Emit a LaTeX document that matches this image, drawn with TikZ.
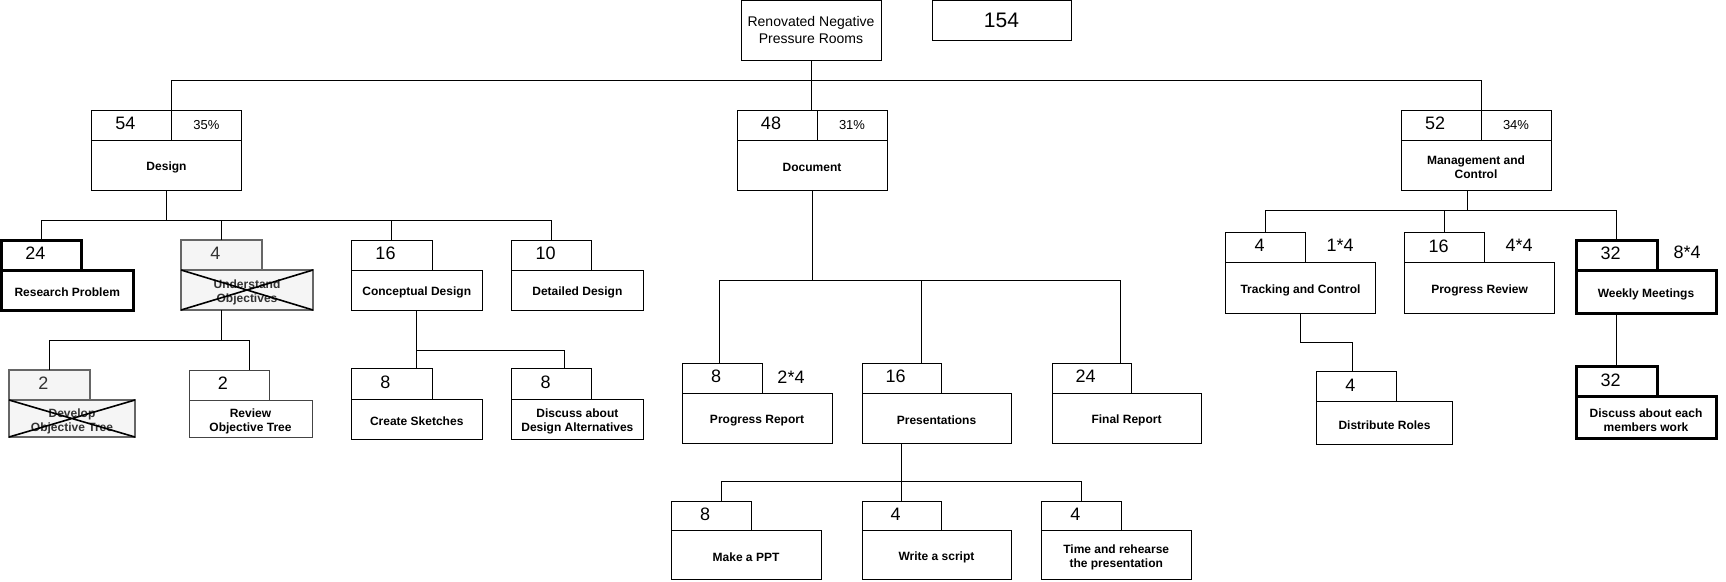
\documentclass[tikz,border=0pt]{standalone}
\usepackage{fontspec}
\setmainfont{Liberation Sans}
\definecolor{xgray}{HTML}{666666}
\definecolor{xfill}{HTML}{F5F5F5}
\definecolor{xtext}{HTML}{333333}
\definecolor{rgray}{HTML}{444444}
\newcommand\numf{\fontsize{18}{18}\selectfont}
\newcommand\pctf{\fontsize{13}{13}\selectfont}
\newcommand\lblf{\fontsize{12}{14}\selectfont\bfseries}
\newcommand\rootf{\fontsize{14}{17}\selectfont}
\newcommand\totf{\fontsize{21}{21}\selectfont}
\begin{document}
\begin{tikzpicture}[x=1pt,y=-1pt,
  base/.style={draw=black, line width=1pt, inner sep=0pt, outer sep=0pt, anchor=north west, align=center, text=black},
  tabbox/.style={base, minimum width=80pt, minimum height=30pt},
  pctbox/.style={base, minimum width=70pt, minimum height=30pt, font=\pctf},
  mainbox/.style={base, minimum width=150pt, minimum height=50pt},
  numlbl/.style={font=\numf, xshift=-6pt, yshift=1.5pt, inner sep=0pt},
  lbl/.style={font=\lblf, align=center, yshift=-2.5pt, inner sep=0pt},
  thick3/.style={line width=3pt},
  crossed/.style={draw=xgray, line width=2pt, fill=xfill},
  greyb/.style={draw=rgray},
  conn/.style={draw=black, line width=1pt},
  xline/.style={draw=black, line width=1.6pt},
  note/.style={font=\numf, inner sep=0pt}
]
\useasboundingbox (0,0) rectangle (1726,581);

% root and total
\node[base, minimum width=140pt, minimum height=59.5pt, font=\rootf] (root) at (741,0.5) {Renovated Negative\\Pressure Rooms};
\node[base, minimum width=139pt, minimum height=39.5pt, font=\totf] (total) at (932,0.5) {154};

% level 1
\node[tabbox, label={[numlbl]center:54}] (desT) at (91.5,110) {};
\node[pctbox] (desP) at (desT.north east) {35\%};
\node[mainbox, label={[lbl]center:Design}] (desM) at (desT.south west) {};

\node[tabbox, label={[numlbl]center:48}] (docT) at (737,110) {};
\node[pctbox] (docP) at (docT.north east) {31\%};
\node[mainbox, label={[lbl]center:Document}] (docM) at (docT.south west) {};

\node[tabbox, label={[numlbl]center:52}] (mgT) at (1401,110) {};
\node[pctbox] (mgP) at (mgT.north east) {34\%};
\node[mainbox, label={[lbl]center:{Management and\\Control}}] (mgM) at (mgT.south west) {};

% Design children
\node[tabbox, thick3, label={[numlbl]center:24}] (rpT) at (1.5,240) {};
\node[mainbox, thick3, minimum width=131.5pt, minimum height=40pt, label={[lbl]center:Research Problem}] (rpM) at (rpT.south west) {};

\node[tabbox, crossed, minimum width=81pt, label={[numlbl, text=xtext]center:4}] (uoT) at (181,240) {};
\node[mainbox, crossed, minimum width=132pt, minimum height=40pt, label={[lbl, text=xtext]center:{Understand\\Objectives}}] (uoM) at (uoT.south west) {};

\node[tabbox, minimum width=81pt, label={[numlbl]center:16}] (cdT) at (351,240) {};
\node[mainbox, minimum width=131.5pt, minimum height=40pt, label={[lbl]center:Conceptual Design}] (cdM) at (cdT.south west) {};

\node[tabbox, label={[numlbl]center:10}] (ddT) at (511.6,240) {};
\node[mainbox, minimum width=131.5pt, minimum height=40pt, label={[lbl]center:Detailed Design}] (ddM) at (ddT.south west) {};

% Understand children
\node[tabbox, crossed, minimum width=81pt, label={[numlbl, text=xtext]center:2}] (dotT) at (9,370) {};
\node[mainbox, crossed, minimum width=126pt, minimum height=37pt, label={[lbl, text=xtext]center:{Develop\\Objective Tree}}] (dotM) at (dotT.south west) {};

\node[tabbox, greyb, label={[numlbl]center:2}] (rotT) at (189,370) {};
\node[mainbox, greyb, minimum width=123pt, minimum height=37pt, label={[lbl]center:{Review\\Objective Tree}}] (rotM) at (rotT.south west) {};

% Conceptual children
\node[tabbox, minimum width=81pt, minimum height=30.5pt, label={[numlbl]center:8}] (csT) at (351,368.5) {};
\node[mainbox, minimum width=131.5pt, minimum height=40pt, label={[lbl]center:Create Sketches}] (csM) at (csT.south west) {};

\node[tabbox, minimum height=30.5pt, label={[numlbl]center:8}] (ddaT) at (511.6,368.5) {};
\node[mainbox, minimum width=131.5pt, minimum height=40pt, label={[lbl]center:{Discuss about\\Design Alternatives}}] (ddaM) at (ddaT.south west) {};

% Document children
\node[tabbox, label={[numlbl]center:8}] (prT) at (682,363) {};
\node[mainbox, label={[lbl]center:Progress Report}] (prM) at (prT.south west) {};
\node[note] (prN) at (791,377) {2*4};

\node[tabbox, minimum width=79pt, label={[numlbl]center:16}] (prsT) at (862,363) {};
\node[mainbox, minimum width=149pt, label={[lbl]center:Presentations}] (prsM) at (prsT.south west) {};

\node[tabbox, minimum width=79pt, label={[numlbl]center:24}] (frT) at (1052,363) {};
\node[mainbox, minimum width=149pt, label={[lbl]center:Final Report}] (frM) at (frT.south west) {};

% Presentations children
\node[tabbox, minimum height=29pt, label={[numlbl]center:8}] (pptT) at (671,501) {};
\node[mainbox, minimum height=49.5pt, label={[lbl]center:Make a PPT}] (pptM) at (pptT.south west) {};

\node[tabbox, minimum width=79pt, minimum height=29pt, label={[numlbl]center:4}] (wsT) at (862,501) {};
\node[mainbox, minimum width=149pt, minimum height=49.5pt, label={[lbl]center:Write a script}] (wsM) at (wsT.south west) {};

\node[tabbox, minimum width=79.5pt, minimum height=29pt, label={[numlbl]center:4}] (trT) at (1041.5,501) {};
\node[mainbox, minimum width=149.5pt, minimum height=49.5pt, label={[lbl]center:{Time and rehearse\\the presentation}}] (trM) at (trT.south west) {};

% Management children
\node[tabbox, label={[numlbl]center:4}] (tcT) at (1225.5,232.3) {};
\node[mainbox, minimum width=150pt, minimum height=51pt, label={[lbl]center:Tracking and Control}] (tcM) at (tcT.south west) {};
\node[note] (tcN) at (1340,245) {1*4};

\node[tabbox, label={[numlbl]center:16}] (prvT) at (1404.6,232.3) {};
\node[mainbox, minimum width=150pt, minimum height=51pt, label={[lbl]center:Progress Review}] (prvM) at (prvT.south west) {};
\node[note] (prvN) at (1519,245) {4*4};

\node[tabbox, thick3, minimum width=81pt, label={[numlbl]center:32}] (wmT) at (1576,240) {};
\node[mainbox, thick3, minimum width=140pt, minimum height=43.3pt, label={[lbl]center:Weekly Meetings}] (wmM) at (wmT.south west) {};
\node[note] (wmN) at (1687,252) {8*4};

\node[tabbox, minimum width=79.5pt, minimum height=29.3pt, label={[numlbl]center:4}] (drT) at (1316.7,371.7) {};
\node[mainbox, minimum width=135.6pt, minimum height=43.3pt, label={[lbl]center:Distribute Roles}] (drM) at (drT.south west) {};

\node[tabbox, thick3, minimum width=81pt, label={[numlbl]center:32}] (dmT) at (1576,366.7) {};
\node[mainbox, thick3, minimum width=140pt, minimum height=42pt, label={[lbl]center:{Discuss about each\\members work}}] (dmM) at (dmT.south west) {};

% crosses
\draw[xline] (uoM.north west) -- (uoM.south east) (uoM.south west) -- (uoM.north east);
\draw[xline] (dotM.north west) -- (dotM.south east) (dotM.south west) -- (dotM.north east);

% bus coordinates
\coordinate (bus0) at (0,80);
\coordinate (busD) at (0,220);
\coordinate (busU) at (0,340);
\coordinate (busC) at (0,350);
\coordinate (bus1) at (0,280);
\coordinate (bus2) at (0,481);
\coordinate (busM) at (0,210.7);

% connectors: root
\draw[conn] (root.south) -- (root.south |- docT.north);
\draw[conn] (desT.north east) -- (desT.north east |- bus0) -- (mgT.north east |- bus0) -- (mgT.north east);

% Design
\draw[conn] (desM.south) -- (desM.south |- busD);
\draw[conn] (rpT.north) -- (rpT.north |- busD) -- (ddT.north |- busD) -- (ddT.north);
\draw[conn] (uoT.north |- busD) -- (uoT.north);
\draw[conn] (cdT.north |- busD) -- (cdT.north);

% Understand
\draw[conn] (uoT.north |- uoM.south) -- (uoT.north |- busU);
\draw[conn] (dotT.north) -- (dotT.north |- busU) -| ([xshift=20.5pt]rotT.north);

% Conceptual
\draw[conn] (cdM.south) -- (cdM.south |- csT.north);
\draw[conn] (cdM.south |- busC) -| ([xshift=12.5pt]ddaT.north);

% Document
\draw[conn] (docM.south) -- (docM.south |- bus1);
\draw[conn] ([xshift=-3pt]prT.north) -- ([xshift=-3pt]prT.north |- bus1) -| ([xshift=29pt]frT.north);
\draw[conn] ([xshift=20pt]prsT.north |- bus1) -- ([xshift=20pt]prsT.north);

% Presentations
\draw[conn] (prsT.north |- prsM.south) -- (prsT.north |- bus2);
\draw[conn] ([xshift=10pt]pptT.north) -- ([xshift=10pt]pptT.north |- bus2) -| (trT.north);
\draw[conn] (wsT.north |- bus2) -- (wsT.north);

% Management
\draw[conn] ([xshift=-9pt]mgM.south) -- ([xshift=-9pt]mgM.south |- busM);
\draw[conn] (tcT.north) -- (tcT.north |- busM) -| (wmT.north);
\draw[conn] (prvT.north |- busM) -- (prvT.north);

% Tracking -> Distribute
\draw[conn] (tcM.south) -- ++(0,29) -| ([xshift=-4pt]drT.north);
% Weekly -> Discuss
\draw[conn] (wmT.north |- wmM.south) -- (dmT.north);
\end{tikzpicture}
\end{document}
